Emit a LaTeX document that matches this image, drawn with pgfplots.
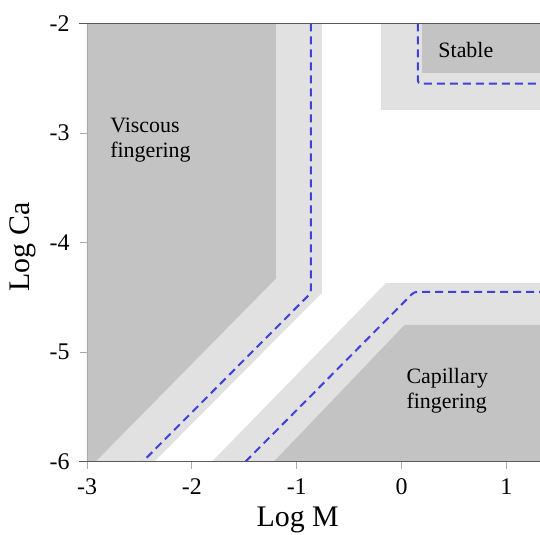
\documentclass[border=0pt]{standalone}
\usepackage{pgfplots}
\pgfplotsset{compat=1.18}
\usepackage{fontspec}
\setmainfont{Liberation Serif}

\definecolor{darkreg}{RGB}{195,195,195}
\definecolor{lightreg}{RGB}{225,225,225}
\definecolor{dashblue}{RGB}{65,65,215}
\definecolor{frameline}{RGB}{90,90,90}
\definecolor{tickgray}{RGB}{170,170,170}

\begin{document}
\begin{tikzpicture}
\begin{axis}[
    scale only axis,
    width=453bp, height=438.5bp,
    xmin=-3, xmax=1.32, ymin=-6, ymax=-2,
    axis line style={draw=none},
    xtick={-3,-2,-1,0,1}, xticklabels={-3,-2,-1,0,1},
    ytick={-6,-5,-4,-3,-2}, yticklabels={-6,-5,-4,-3,-2},
    xtick pos=bottom, ytick pos=left,
    tick align=outside, major tick length=7bp,
    tick style={color=tickgray, line width=0.8bp},
    ticklabel style={font=\fontsize{24}{28}\selectfont},
    xticklabel style={yshift=-6bp},
    yticklabel style={xshift=-7bp},
    xlabel={Log M}, ylabel={Log Ca},
    label style={font=\fontsize{30}{34}\selectfont},
    xlabel style={at={([yshift=-65bp]rel axis cs:0.465,0)}, anchor=base},
    ylabel style={at={([xshift=-64bp]rel axis cs:0,0.49)}, anchor=center},
    clip=true,
]
% light transition bands
\addplot[fill=lightreg, draw=none] coordinates {(-3,-2) (-0.76,-2) (-0.76,-4.46) (-2.36,-6) (-3,-6)} -- cycle;
\addplot[fill=lightreg, draw=none] coordinates {(-0.20,-2) (1.32,-2) (1.32,-2.79) (-0.20,-2.79)} -- cycle;
\addplot[fill=lightreg, draw=none] coordinates {(-1.81,-6) (-0.15,-4.37) (1.32,-4.37) (1.32,-6)} -- cycle;
% regime regions
\addplot[fill=darkreg, draw=none] coordinates {(-3,-2) (-1.20,-2) (-1.20,-4.33) (-2.92,-6) (-3,-6)} -- cycle;
\addplot[fill=darkreg, draw=none] coordinates {(0.19,-2) (1.32,-2) (1.32,-2.45) (0.19,-2.45)} -- cycle;
\addplot[fill=darkreg, draw=none] coordinates {(-1.22,-6) (0.03,-4.75) (1.32,-4.75) (1.32,-6)} -- cycle;
% boundaries
\addplot[dashblue, line width=2bp, dash pattern=on 8bp off 5bp, rounded corners=3bp] coordinates {(-0.865,-2) (-0.865,-4.46) (-2.47,-6)};
\addplot[dashblue, line width=2bp, dash pattern=on 8bp off 5bp, rounded corners=3bp] coordinates {(0.155,-2) (0.155,-2.55) (1.32,-2.55)};
\addplot[dashblue, line width=2bp, dash pattern=on 8bp off 5bp, rounded corners=3bp] coordinates {(-1.49,-6) (0.12,-4.45) (1.32,-4.45)};

\node[anchor=base west, inner sep=0, font=\fontsize{22}{24}\selectfont] at (axis cs:-2.78,-3.00) {Viscous};
\node[anchor=base west, inner sep=0, font=\fontsize{22}{24}\selectfont] at (axis cs:-2.78,-3.22) {fingering};
\node[anchor=base west, inner sep=0, font=\fontsize{22}{24}\selectfont] at (axis cs:0.35,-2.31) {Stable};
\node[anchor=base west, inner sep=0, font=\fontsize{22}{24}\selectfont] at (axis cs:0.045,-5.29) {Capillary};
\node[anchor=base west, inner sep=0, font=\fontsize{22}{24}\selectfont] at (axis cs:0.045,-5.51) {fingering};

\coordinate (sw) at (rel axis cs:0,0);
\coordinate (ne) at (rel axis cs:1,1);
\end{axis}
\draw[tickgray, line width=0.8bp] (sw) -- (sw |- ne);
\draw[frameline, line width=1.2bp] ([xshift=-8bp]sw |- ne) -- (ne);
\draw[frameline, line width=1.2bp] ([xshift=-8bp]sw) -- (sw -| ne);
\pgfresetboundingbox
\path[use as bounding box] ([xshift=-87bp, yshift=-73bp]sw) rectangle ([yshift=23.3bp]ne);
\end{tikzpicture}
\end{document}
